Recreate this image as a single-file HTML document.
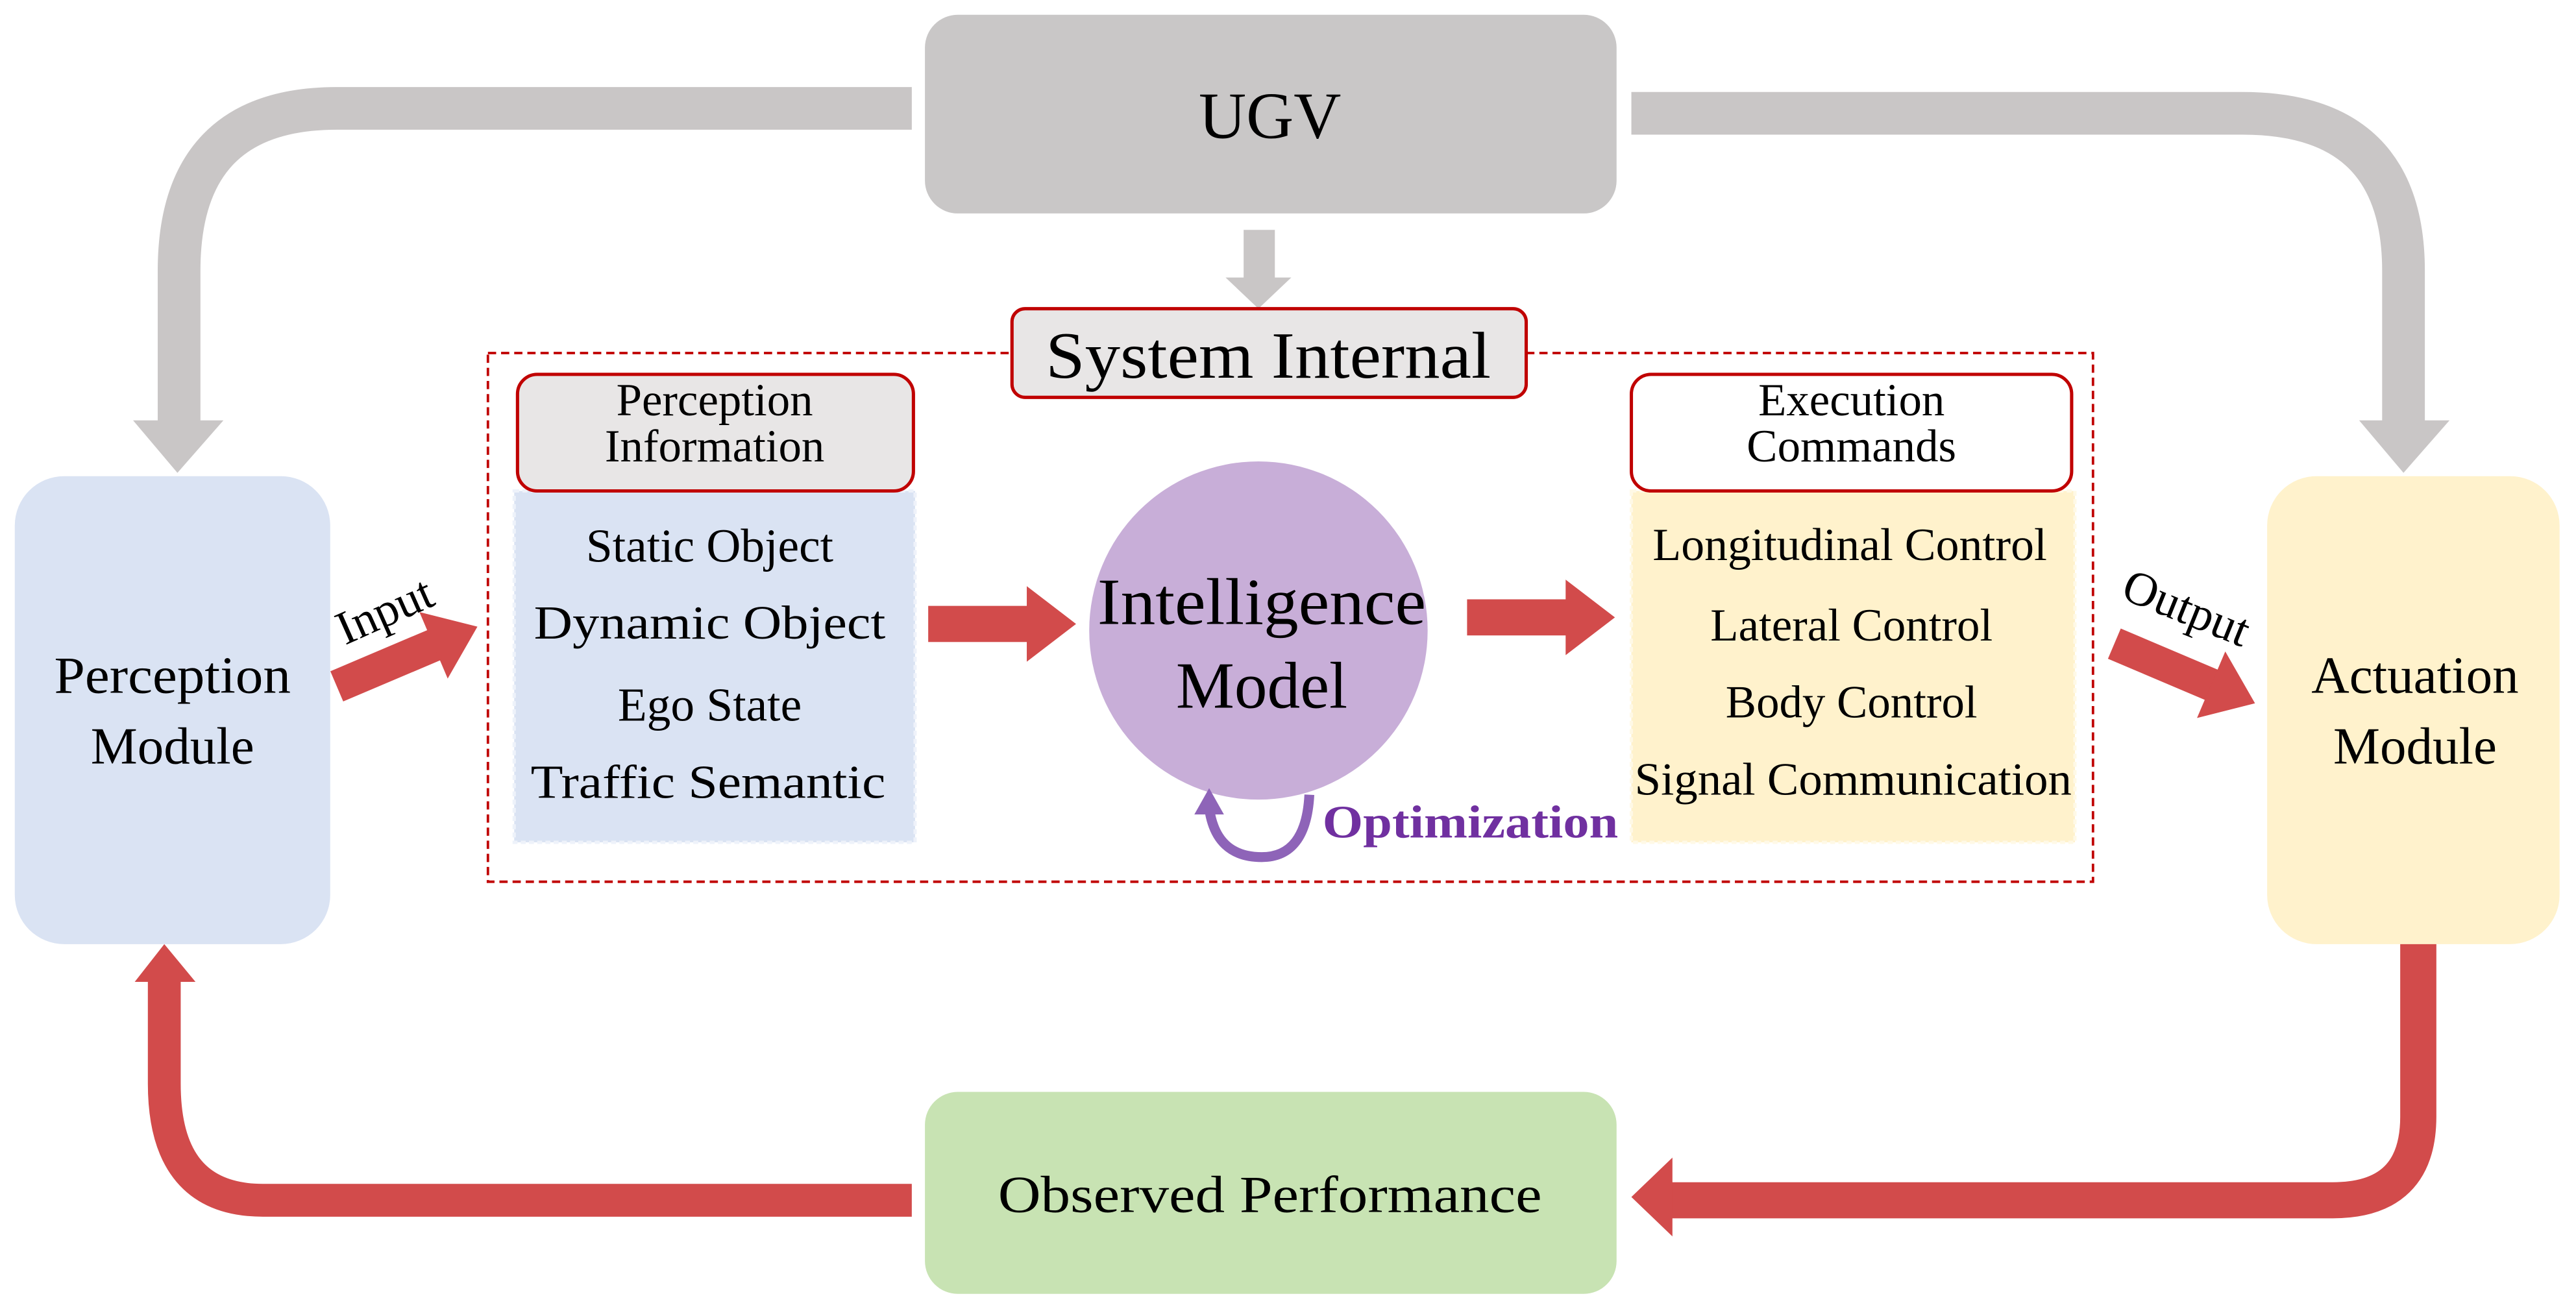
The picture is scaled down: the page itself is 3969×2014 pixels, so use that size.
<!DOCTYPE html>
<html><head><meta charset="utf-8"><style>
html,body{margin:0;padding:0;background:#fff;}
svg{display:block;}
text{font-family:"Liberation Serif",serif;fill:#000;}
</style></head><body>
<svg width="3969" height="2014" viewBox="0 0 1568 796" preserveAspectRatio="none" xmlns="http://www.w3.org/2000/svg">
<rect width="1568" height="796" fill="#fff"/>
<!-- grey arrows -->
<path d="M555,66 L205,66 Q109,66 109,165 L109,258" fill="none" stroke="#c9c6c6" stroke-width="26"/>
<polygon points="81,256 136,256 108,288" fill="#c9c6c6"/>
<path d="M993,69 L1365,69 Q1463,69 1463,165 L1463,258" fill="none" stroke="#c9c6c6" stroke-width="26"/>
<polygon points="1436,256 1491,256 1463,288" fill="#c9c6c6"/>
<rect x="757" y="140" width="19" height="30" fill="#c9c6c6"/>
<polygon points="746,169 786,169 766,188" fill="#c9c6c6"/>
<!-- UGV -->
<rect x="563" y="9" width="421" height="121" rx="20" fill="#c9c7c7"/>
<text x="773" y="84" font-size="40" text-anchor="middle">UGV</text>
<!-- dashed system box -->
<rect x="297" y="215" width="977" height="322" fill="none" stroke="#c00000" stroke-width="1.5" stroke-dasharray="5,3"/>
<rect x="616" y="188" width="313" height="54" rx="8" fill="#e8e6e6" stroke="#c00000" stroke-width="2"/>
<text x="772" y="230" font-size="40" text-anchor="middle" textLength="271" lengthAdjust="spacingAndGlyphs">System Internal</text>
<!-- perception list -->
<rect x="313" y="299" width="244" height="214" fill="#dae3f3" stroke="#eef2fa" stroke-width="2" stroke-dasharray="3,2"/>
<rect x="315" y="228" width="241" height="71" rx="12" fill="#e8e6e6" stroke="#c00000" stroke-width="2"/>
<text x="435" y="253" font-size="28" text-anchor="middle">Perception</text>
<text x="435" y="281" font-size="28" text-anchor="middle">Information</text>
<g font-size="29" text-anchor="middle">
<text x="432" y="342">Static Object</text>
<text x="432" y="389" textLength="214" lengthAdjust="spacingAndGlyphs">Dynamic Object</text>
<text x="432" y="439">Ego State</text>
<text x="431" y="486" textLength="216" lengthAdjust="spacingAndGlyphs">Traffic Semantic</text>
</g>
<!-- execution list -->
<rect x="993" y="299" width="270" height="214" fill="#fff2cc" stroke="#fff9e6" stroke-width="2" stroke-dasharray="3,2"/>
<rect x="993" y="228" width="268" height="71" rx="12" fill="#fff" stroke="#c00000" stroke-width="2"/>
<text x="1127" y="253" font-size="28" text-anchor="middle">Execution</text>
<text x="1127" y="281" font-size="28" text-anchor="middle">Commands</text>
<g font-size="28" text-anchor="middle">
<text x="1126" y="341" textLength="240" lengthAdjust="spacingAndGlyphs">Longitudinal Control</text>
<text x="1127" y="390">Lateral Control</text>
<text x="1127" y="437">Body Control</text>
<text x="1128" y="484" textLength="266" lengthAdjust="spacingAndGlyphs">Signal Communication</text>
</g>
<!-- circle -->
<circle cx="766" cy="384" r="103" fill="#c8aed8"/>
<text x="768" y="380" font-size="40" text-anchor="middle" textLength="200" lengthAdjust="spacingAndGlyphs">Intelligence</text>
<text x="768" y="431" font-size="40" text-anchor="middle">Model</text>
<!-- red inner arrows -->
<rect x="565" y="369" width="62" height="22" fill="#d24b4b"/>
<polygon points="625,357 655,380 625,403" fill="#d24b4b"/>
<rect x="893" y="365" width="62" height="22" fill="#d24b4b"/>
<polygon points="953,353 983,376 953,399" fill="#d24b4b"/>
<!-- input -->
<g transform="translate(205,418) rotate(-23)">
<rect x="0" y="-10" width="66" height="20" fill="#d24b4b"/>
<polygon points="64,-22 93,0 64,22" fill="#d24b4b"/>
</g>
<text x="0" y="0" font-size="29" transform="translate(210,393) rotate(-24)">Input</text>
<!-- output -->
<g transform="translate(1287,392) rotate(23)">
<rect x="0" y="-10" width="66" height="20" fill="#d24b4b"/>
<polygon points="64,-22 93,0 64,22" fill="#d24b4b"/>
</g>
<text x="0" y="0" font-size="29" transform="translate(1290,364) rotate(22)">Output</text>
<!-- optimization -->
<path d="M797,484 Q795,522 768,522 Q740,522 736,492" fill="none" stroke="#8e64b8" stroke-width="6"/>
<polygon points="727,496 745,496 736,480" fill="#8e64b8"/>
<text x="805" y="510" font-size="28" font-weight="bold" style="fill:#7030a0" textLength="180" lengthAdjust="spacingAndGlyphs">Optimization</text>
<!-- modules -->
<rect x="9" y="290" width="192" height="285" rx="30" fill="#dae3f3"/>
<text x="105" y="422" font-size="32" text-anchor="middle" textLength="144" lengthAdjust="spacingAndGlyphs">Perception</text>
<text x="105" y="465" font-size="32" text-anchor="middle">Module</text>
<rect x="1380" y="290" width="178" height="285" rx="30" fill="#fff2cc"/>
<text x="1470" y="422" font-size="32" text-anchor="middle">Actuation</text>
<text x="1470" y="465" font-size="32" text-anchor="middle">Module</text>
<rect x="563" y="665" width="421" height="123" rx="20" fill="#c8e3b3"/>
<text x="773" y="738" font-size="32" text-anchor="middle" textLength="331" lengthAdjust="spacingAndGlyphs">Observed Performance</text>
<!-- red bottom arrows -->
<path d="M555,731 L160,731 Q100,731 100,660 L100,596" fill="none" stroke="#d24b4b" stroke-width="20"/>
<polygon points="82,598 119,598 100,575" fill="#d24b4b"/>
<path d="M1472,575 L1472,680 Q1472,731 1420,731 L1016,731" fill="none" stroke="#d24b4b" stroke-width="22"/>
<polygon points="1018,705 1018,753 993,729" fill="#d24b4b"/>
</svg>
</body></html>
